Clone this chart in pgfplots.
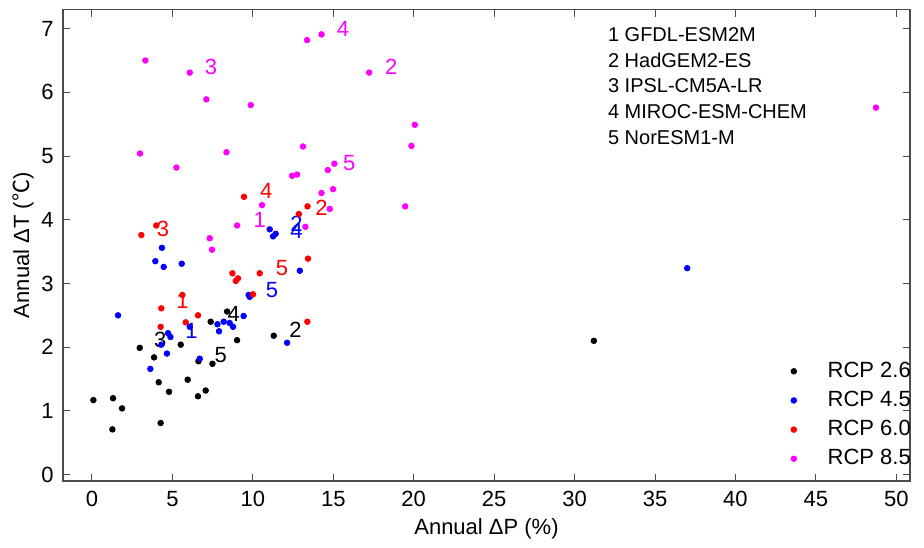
\documentclass[border=0pt]{standalone}
\usepackage{fontspec}
\setmainfont{Liberation Sans}
\newfontfamily\cjk{Noto Sans CJK SC}
\usepackage{pgfplots}
\pgfplotsset{compat=1.18}

\definecolor{rcpA}{RGB}{0,0,0}
\definecolor{rcpB}{RGB}{0,0,255}
\definecolor{rcpC}{RGB}{255,0,0}
\definecolor{rcpD}{RGB}{255,0,255}

\begin{document}
\begin{tikzpicture}
\begin{axis}[
    scale only axis,
    width=423.5pt, height=235.75pt,
    xmin=-1.8, xmax=50.85, ymin=-0.1, ymax=7.3,
    xtick={0,5,...,50}, ytick={0,1,...,7},
    tick align=inside, major tick length=3.5pt,
    axis line style={black!70, line width=0.6pt},
    every tick/.style={black!70, line width=0.5pt},
    /pgf/number format/assume math mode=true,
    tick label style={font=\fontsize{11}{13}\selectfont},
    label style={font=\fontsize{11}{13}\selectfont},
    xticklabel style={yshift=-1.5pt},
    yticklabel style={xshift=-1.2pt},
    xlabel={Annual ΔP (\%)},
    ylabel={Annual ΔT ({\cjk ℃})},
    xlabel style={yshift=1pt},
    ylabel style={yshift=-3pt},
    legend style={at={(1.012,0.012)}, anchor=south east, draw=none, fill=none,
        row sep=2.4pt, nodes={inner sep=1.5pt},
        font=\fontsize{11}{13}\selectfont},
    legend cell align=left,
    legend image code/.code={\draw[#1] plot coordinates {(0.45cm,0cm)};},
    every axis plot/.append style={only marks, mark=*, mark size=1.4pt},
]
\addplot[rcpA, mark options={fill=rcpA, draw=rcpA}] coordinates {
    (0.09,1.17) (1.31,1.20) (1.87,1.04) (1.27,0.71) (4.27,0.81)
    (4.15,1.45) (4.79,1.30) (5.95,1.49) (6.59,1.23) (7.07,1.32)
    (7.49,1.74) (6.62,1.78) (3.86,1.84) (2.97,1.99) (5.52,2.04)
    (9.02,2.11) (11.30,2.18) (7.38,2.40) (8.40,2.56) (31.2,2.10)
};
\addlegendentry{\hspace{14pt}RCP 2.6}
\addplot[rcpB, mark options={fill=rcpB, draw=rcpB}] coordinates {
    (4.35,3.56) (3.94,3.35) (4.46,3.26) (5.58,3.31) (11.05,3.85)
    (11.26,3.74) (11.42,3.78) (12.92,3.20) (9.81,2.79) (9.74,2.82)
    (1.62,2.50) (9.43,2.49) (7.80,2.36) (8.19,2.40) (8.56,2.38)
    (8.77,2.32) (7.90,2.25) (6.08,2.32) (4.73,2.22) (4.88,2.16)
    (4.31,2.04) (4.66,1.90) (3.63,1.66) (6.70,1.82) (12.13,2.07)
    (37.0,3.24)
};
\addlegendentry{\hspace{14pt}RCP 4.5}
\addplot[rcpC, mark options={fill=rcpC, draw=rcpC}] coordinates {
    (9.45,4.36) (13.40,4.21) (12.86,4.09) (3.07,3.76) (4.00,3.91)
    (13.43,3.39) (8.73,3.16) (10.43,3.16) (8.94,3.04) (9.08,3.08)
    (10.01,2.83) (5.62,2.82) (4.31,2.61) (6.59,2.50) (5.83,2.39)
    (4.27,2.32) (13.39,2.40)
};
\addlegendentry{\hspace{14pt}RCP 6.0}
\addplot[rcpD, mark options={fill=rcpD, draw=rcpD}] coordinates {
    (13.37,6.82) (14.27,6.91) (3.32,6.50) (6.08,6.31) (7.11,5.89)
    (9.87,5.80) (2.99,5.04) (8.36,5.06) (13.12,5.15) (5.25,4.82)
    (12.44,4.69) (12.75,4.71) (14.66,4.78) (15.07,4.88) (14.27,4.42)
    (14.99,4.48) (14.78,4.17) (10.57,4.23) (9.02,3.91) (13.27,3.89)
    (7.32,3.71) (7.46,3.53) (17.23,6.31) (20.07,5.49) (19.86,5.16)
    (19.47,4.21) (48.73,5.76)
};
\addlegendentry{\hspace{14pt}RCP 8.5}

% model numbers next to the points
\begin{scope}[every node/.style={font=\fontsize{11}{13}\selectfont, inner sep=1pt}]
\node[text=rcpA] at (axis cs:12.65,2.28) {2};
\node[text=rcpA] at (axis cs:4.25,2.12) {3};
\node[text=rcpA] at (axis cs:8.81,2.52) {4};
\node[text=rcpA] at (axis cs:8.0,1.88) {5};
\node[text=rcpB] at (axis cs:6.18,2.25) {1};
\node[text=rcpB] at (axis cs:12.71,3.93) {2};
\node[text=rcpB] at (axis cs:12.71,3.82) {4};
\node[text=rcpB] at (axis cs:11.19,2.89) {5};
\node[text=rcpC] at (axis cs:5.62,2.72) {1};
\node[text=rcpC] at (axis cs:14.27,4.18) {2};
\node[text=rcpC] at (axis cs:4.42,3.85) {3};
\node[text=rcpC] at (axis cs:10.84,4.46) {4};
\node[text=rcpC] at (axis cs:11.82,3.25) {5};
\node[text=rcpD] at (axis cs:10.43,4.0) {1};
\node[text=rcpD] at (axis cs:18.6,6.4) {2};
\node[text=rcpD] at (axis cs:7.4,6.4) {3};
\node[text=rcpD] at (axis cs:15.6,7.0) {4};
\node[text=rcpD] at (axis cs:16.0,4.89) {5};
\end{scope}

\node[anchor=north west, inner sep=0pt, align=left,
      font=\fontsize{10}{12.9}\selectfont]
    at (rel axis cs:0.643,0.963) {1 GFDL-ESM2M\\2 HadGEM2-ES\\3 IPSL-CM5A-LR\\4 MIROC-ESM-CHEM\\5 NorESM1-M};
\end{axis}
\path (current axis.south west) ++(-31.5pt,-33pt) rectangle ++(462pt,273.5pt);
\end{tikzpicture}
\end{document}
